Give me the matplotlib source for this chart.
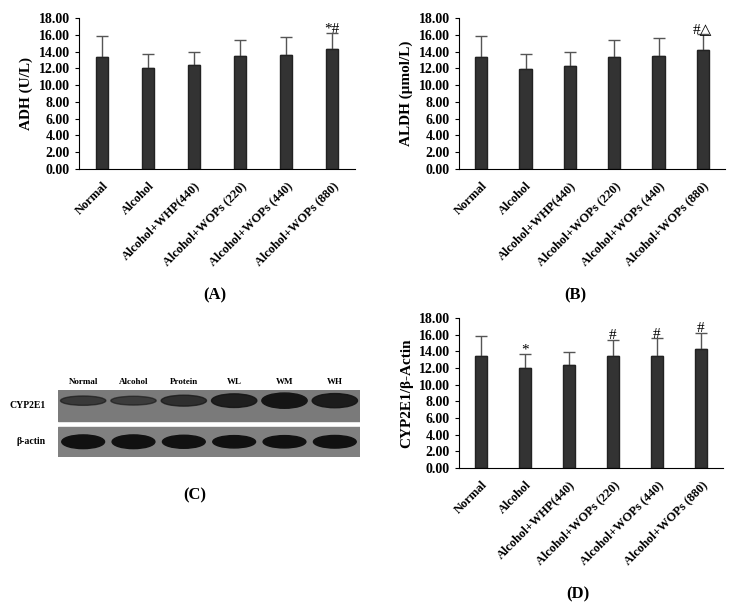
import matplotlib
matplotlib.use("Agg")
import matplotlib.pyplot as plt
from matplotlib.patches import Ellipse
import numpy as np

plt.rcParams.update({
    "font.family": "Liberation Serif",
    "font.weight": "bold",
    "axes.labelweight": "bold",
})

groups = ["Normal", "Alcohol", "Alcohol+WHP(440)", "Alcohol+WOPs (220)",
          "Alcohol+WOPs (440)", "Alcohol+WOPs (880)"]
adh_mean = [13.4, 12.0, 12.4, 13.5, 13.6, 14.3]
adh_err = [2.4, 1.7, 1.6, 1.9, 2.1, 1.9]
aldh_mean = [13.3, 11.9, 12.3, 13.4, 13.5, 14.2]
aldh_err = [2.5, 1.8, 1.6, 2.0, 2.1, 1.9]
cyp_mean = [13.4, 12.0, 12.4, 13.4, 13.5, 14.3]
cyp_err = [2.4, 1.7, 1.5, 2.0, 2.1, 1.9]
adh_marks = ["", "", "", "", "", "*#"]
aldh_marks = ["", "", "", "", "", "#△"]
cyp_marks = ["", "*", "", "#", "#", "#"]
yticks = [0, 2, 4, 6, 8, 10, 12, 14, 16, 18]

blot_lanes = ["Normal", "Alcohol", "Protein", "WL", "WM", "WH"]
cyp_band = [0.45, 0.4, 0.6, 0.85, 1.0, 0.9]      # relative band strength
actin_band = [1.0, 1.0, 0.95, 0.9, 0.9, 0.92]

W, H = 738, 608
fig = plt.figure(figsize=(W / 100, H / 100), dpi=100)

def px_axes(x0, y0, x1, y1):
    return fig.add_axes([x0 / W, 1 - y1 / H, (x1 - x0) / W, (y1 - y0) / H])

def bar_panel(ax, mean, err, marks, ylabel):
    x = np.arange(len(mean))
    ax.bar(x, mean, width=0.28, color="#333333", edgecolor="#222222", zorder=2)
    ax.errorbar(x, mean, yerr=[np.zeros(len(err)), err], fmt="none",
                ecolor="#555555", elinewidth=1, capsize=4, zorder=1)
    for xi, m, e, s in zip(x, mean, err, marks):
        if s:
            ax.text(xi, m + e - 0.3, s, ha="center", va="bottom", fontsize=11,
                    fontweight="normal", family=["Liberation Serif", "DejaVu Sans"])
    ax.set_ylim(0, 18)
    ax.set_xlim(-0.5, len(mean) - 0.5)
    ax.set_yticks(yticks)
    ax.set_yticklabels([f"{v:.2f}" for v in yticks], fontsize=10)
    ax.set_xticks(x)
    ax.set_xticklabels(groups, rotation=45, ha="right", rotation_mode="anchor", fontsize=9)
    ax.tick_params(axis="x", length=0, pad=8)
    ax.tick_params(axis="y", length=3)
    ax.set_ylabel(ylabel, fontsize=11)
    for s in ["top", "right"]:
        ax.spines[s].set_visible(False)

axA = px_axes(79, 18, 355, 169)
bar_panel(axA, adh_mean, adh_err, adh_marks, "ADH (U/L)")
axB = px_axes(459, 18, 725, 169)
bar_panel(axB, aldh_mean, aldh_err, aldh_marks, "ALDH (μmol/L)")
axD = px_axes(459, 318, 723, 468)
bar_panel(axD, cyp_mean, cyp_err, cyp_marks, "CYP2E1/β-Actin")

# western blot panel
axC = px_axes(58, 390, 360, 457)
axC.set_xlim(0, 6)
axC.set_ylim(0, 2.2)
axC.axis("off")
axC.add_patch(plt.Rectangle((0, 1.17), 6, 1.03, color="#7a7a7a"))
axC.add_patch(plt.Rectangle((0, 0.0), 6, 1.0, color="#808080"))
for i, (c, a) in enumerate(zip(cyp_band, actin_band)):
    axC.add_patch(Ellipse((i + 0.5, 1.85), 0.9, 0.15 + 0.35 * c,
                          color="#151515", alpha=0.35 + 0.65 * c))
    axC.add_patch(Ellipse((i + 0.5, 0.5), 0.85, 0.45 * a, color="#111111"))
for i, name in enumerate(blot_lanes):
    fig.text((58 + (i + 0.5) * 302 / 6) / W, 1 - 382 / H, name, ha="center",
             va="center", fontsize=6.5)
fig.text(46 / W, 1 - 406 / H, "CYP2E1", ha="right", va="center", fontsize=7)
fig.text(46 / W, 1 - 441 / H, "β-actin", ha="right", va="center", fontsize=7)

for lab, x, y in [("(A)", 215, 295), ("(B)", 575, 295), ("(C)", 195, 495), ("(D)", 578, 594)]:
    fig.text(x / W, 1 - y / H, lab, ha="center", va="center", fontsize=12)

fig.savefig("out.png", dpi=100)
